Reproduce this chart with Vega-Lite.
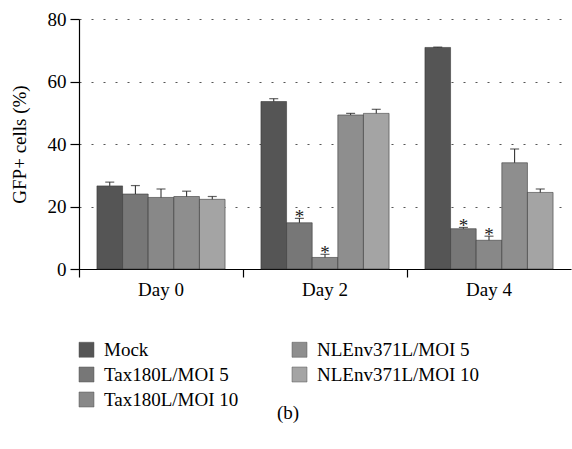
{
  "$schema": "https://vega.github.io/schema/vega-lite/v6.json",
  "width": 492,
  "height": 250,
  "autosize": "none",
  "padding": {"left": 79, "top": 19, "right": 1, "bottom": 180},
  "background": "white",
  "title": {"text": "(b)", "orient": "bottom", "offset": -6, "dx": -37, "font": "Liberation Serif", "fontSize": 19, "fontWeight": "normal", "color": "black", "anchor": "middle"},
  "config": {
    "view": {"stroke": null},
    "font": "Liberation Serif",
    "axis": {"labelFont": "Liberation Serif", "titleFont": "Liberation Serif", "labelColor": "black", "titleColor": "black", "domainColor": "black", "tickColor": "black", "labelFontSize": 19, "titleFontSize": 19, "titleFontWeight": "normal"}
  },
  "data": {"values": [
    {"day": "Day 0", "group": "Mock", "value": 26.6, "err": 27.8, "sig": ""},
    {"day": "Day 0", "group": "Tax180L/MOI 5", "value": 24.0, "err": 26.7, "sig": ""},
    {"day": "Day 0", "group": "Tax180L/MOI 10", "value": 22.9, "err": 25.6, "sig": ""},
    {"day": "Day 0", "group": "NLEnv371L/MOI 5", "value": 23.2, "err": 24.9, "sig": ""},
    {"day": "Day 0", "group": "NLEnv371L/MOI 10", "value": 22.3, "err": 23.2, "sig": ""},
    {"day": "Day 2", "group": "Mock", "value": 53.6, "err": 54.5, "sig": ""},
    {"day": "Day 2", "group": "Tax180L/MOI 5", "value": 14.8, "err": 16.2, "sig": "*"},
    {"day": "Day 2", "group": "Tax180L/MOI 10", "value": 3.7, "err": 4.7, "sig": "*"},
    {"day": "Day 2", "group": "NLEnv371L/MOI 5", "value": 49.3, "err": 49.8, "sig": ""},
    {"day": "Day 2", "group": "NLEnv371L/MOI 10", "value": 49.8, "err": 51.1, "sig": ""},
    {"day": "Day 4", "group": "Mock", "value": 70.9, "err": 71.0, "sig": ""},
    {"day": "Day 4", "group": "Tax180L/MOI 5", "value": 12.9, "err": 13.3, "sig": "*"},
    {"day": "Day 4", "group": "Tax180L/MOI 10", "value": 9.2, "err": 10.5, "sig": "*"},
    {"day": "Day 4", "group": "NLEnv371L/MOI 5", "value": 34.0, "err": 38.4, "sig": ""},
    {"day": "Day 4", "group": "NLEnv371L/MOI 10", "value": 24.5, "err": 25.6, "sig": ""}
  ]},
  "encoding": {
    "x": {"field": "day", "type": "nominal", "scale": {"paddingInner": 0, "paddingOuter": 0},
      "axis": {"title": null, "labelAngle": 0, "bandPosition": 0, "tickSize": 8, "labelPadding": 3, "domainWidth": 1.2, "tickWidth": 1.2}},
    "xOffset": {"field": "group", "type": "nominal", "scale": {"domain": ["Mock", "Tax180L/MOI 5", "Tax180L/MOI 10", "NLEnv371L/MOI 5", "NLEnv371L/MOI 10"], "paddingInner": 0, "paddingOuter": 0.7}}
  },
  "layer": [
    {
      "mark": {"type": "bar", "stroke": "#333333", "strokeWidth": 0.7, "strokeOpacity": 0.8},
      "encoding": {
        "y": {"field": "value", "type": "quantitative", "scale": {"domain": [0, 80], "nice": false},
          "axis": {"title": "GFP+ cells (%)", "values": [0, 20, 40, 60, 80], "grid": true, "gridDash": [2, 10], "gridColor": "#555555", "gridWidth": 1.2, "tickSize": 9, "labelPadding": 4, "titlePadding": 18, "domainWidth": 1.2, "tickWidth": 1.2}},
        "fill": {"field": "group", "type": "nominal",
          "scale": {"domain": ["Mock", "Tax180L/MOI 5", "Tax180L/MOI 10", "NLEnv371L/MOI 5", "NLEnv371L/MOI 10"], "range": ["#555555", "#777777", "#888888", "#8e8e8e", "#a4a4a4"]},
          "legend": {"title": null, "orient": "none", "legendX": -2, "legendY": 321, "columns": 2, "columnPadding": 51, "rowPadding": 5, "symbolType": "square", "symbolSize": 225, "symbolStrokeColor": "#555555", "symbolStrokeWidth": 0.5, "labelFont": "Liberation Serif", "labelFontSize": 19, "labelColor": "black", "labelOffset": 8, "labelLimit": 300}}
      }
    },
    {
      "mark": {"type": "rule", "color": "#222222", "strokeWidth": 1},
      "encoding": {"y": {"field": "value", "type": "quantitative"}, "y2": {"field": "err"}}
    },
    {
      "mark": {"type": "tick", "color": "#222222", "thickness": 1.2, "size": 9},
      "encoding": {"y": {"field": "err", "type": "quantitative"}}
    },
    {
      "mark": {"type": "text", "font": "Liberation Serif", "fontSize": 19, "baseline": "alphabetic", "dy": 5, "color": "#222222"},
      "encoding": {"y": {"field": "err", "type": "quantitative"}, "text": {"field": "sig"}}
    }
  ]
}
